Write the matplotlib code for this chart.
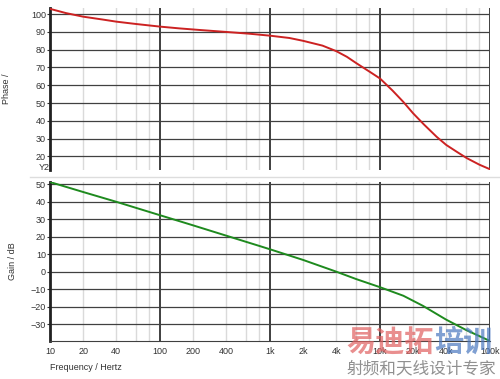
import numpy as np
import matplotlib.pyplot as plt
from matplotlib.ticker import FixedLocator, NullFormatter

plt.rcParams["font.family"] = ["Liberation Sans", "DejaVu Sans"]

# phase curve
f_phase = [10, 14, 20, 30, 40, 60, 100, 150, 230, 400, 650, 1000, 1500, 2000,
           3000, 4000, 5000, 6100, 8100, 10000, 13000, 16300, 20000, 25000,
           32700, 40000, 50000, 61400, 80000, 100000]
phase = [103, 100.6, 98.6, 97, 95.8, 94.5, 93, 92, 91.1, 90, 89.0, 87.9, 86.6,
         85, 82.3, 79.2, 76, 72.4, 67.5, 63.8, 57, 50.6, 44.2, 38, 31, 26.4,
         22.5, 19, 15.3, 12.7]

# gain curve
f_gain = [10, 20, 40, 100, 200, 400, 811, 1000, 2000, 4000, 6100, 10000,
          16300, 24600, 40000, 61000, 100000]
gain = [51.3, 45.6, 40, 32.3, 26.5, 20.6, 14.6, 12.8, 6.7, 0, -4.3, -8.9,
        -13.8, -19.6, -27.5, -33.5, -39.7]

xticks = [10, 20, 40, 100, 200, 400, 1000, 2000, 4000, 10000, 20000, 40000, 100000]
xlabels = ["10", "20", "40", "100", "200", "400", "1k", "2k", "4k", "10k", "20k", "40k", "100k"]
decades = [10, 100, 1000, 10000, 100000]
minors = [m * d for d in [10, 100, 1000, 10000] for m in (2, 4, 6, 8)]

fig = plt.figure(figsize=(5, 3.79), dpi=100)
ax1 = fig.add_axes([0.1, 0.5515, 0.88, 0.4275])
ax2 = fig.add_axes([0.1, 0.1003, 0.88, 0.4203])

def style(ax, yt):
    ax.set_xscale("log")
    ax.set_xlim(10, 100000)
    for v in minors:
        ax.axvline(v, color="#dadada", lw=1.0, zorder=0)
    for v in decades:
        ax.axvline(v, color="#303030", lw=1.3, zorder=1)
    for v in yt:
        ax.axhline(v, color="#404040", lw=0.9, zorder=1)
    ax.set_yticks(yt)
    ax.xaxis.set_major_locator(FixedLocator(xticks))
    ax.xaxis.set_minor_locator(FixedLocator([]))
    for s in ["top", "right", "bottom"]:
        ax.spines[s].set_visible(False)
    ax.spines["left"].set_color("#202020")
    ax.spines["left"].set_linewidth(2)
    ax.tick_params(axis="y", length=2, width=0.8, pad=1, labelsize=6.5,
                   colors="#333333")
    ax.tick_params(axis="x", length=0, labelsize=6.5, colors="#333333")

style(ax1, np.arange(20, 101, 10))
ax1.set_ylim(12.3, 103.5)
ax1.xaxis.set_major_formatter(NullFormatter())
ax1.plot(f_phase, phase, color="#cc2222", lw=1.4, zorder=3)
ax1.set_ylabel("Phase /", fontsize=6.5, color="#333333", labelpad=14)

style(ax2, np.arange(-30, 51, 10))
ax2.set_ylim(-39.7, 51.5)
ax2.spines["bottom"].set_visible(True)
ax2.spines["bottom"].set_color("#404040")
ax2.set_xticklabels(xlabels)
ax2.tick_params(axis="x", pad=4)
ax2.plot(f_gain, gain, color="#1e8a1e", lw=1.4, zorder=3)
ax2.set_ylabel("Gain / dB", fontsize=6.5, color="#333333", labelpad=10)

fig.text(50 / 500, 1 - 368 / 379, "Frequency / Hertz", fontsize=6.5,
         color="#333333", va="center", ha="left")
fig.text(44 / 500, 1 - 168 / 379, "Y2", fontsize=6.5, color="#333333",
         va="center", ha="center")
fig.add_artist(plt.Line2D([30 / 500, 1], [1 - 177 / 379] * 2,
                          color="#dddddd", lw=1))

# watermark
fig.text(346 / 500, 1 - 342 / 379, "易迪拓", fontsize=21, fontweight="heavy",
         color="#e06060", alpha=0.7, va="center", ha="left",
         family=["Noto Sans CJK SC"])
fig.text(434 / 500, 1 - 342 / 379, "培训", fontsize=21, fontweight="heavy",
         color="#4a78c0", alpha=0.7, va="center", ha="left",
         family=["Noto Sans CJK SC"])
fig.text(347 / 500, 1 - 369 / 379, "射频和天线设计专家", fontsize=12,
         color="#909090", va="center", ha="left",
         family=["Noto Sans CJK SC"])

fig.savefig("out.png", dpi=100)
